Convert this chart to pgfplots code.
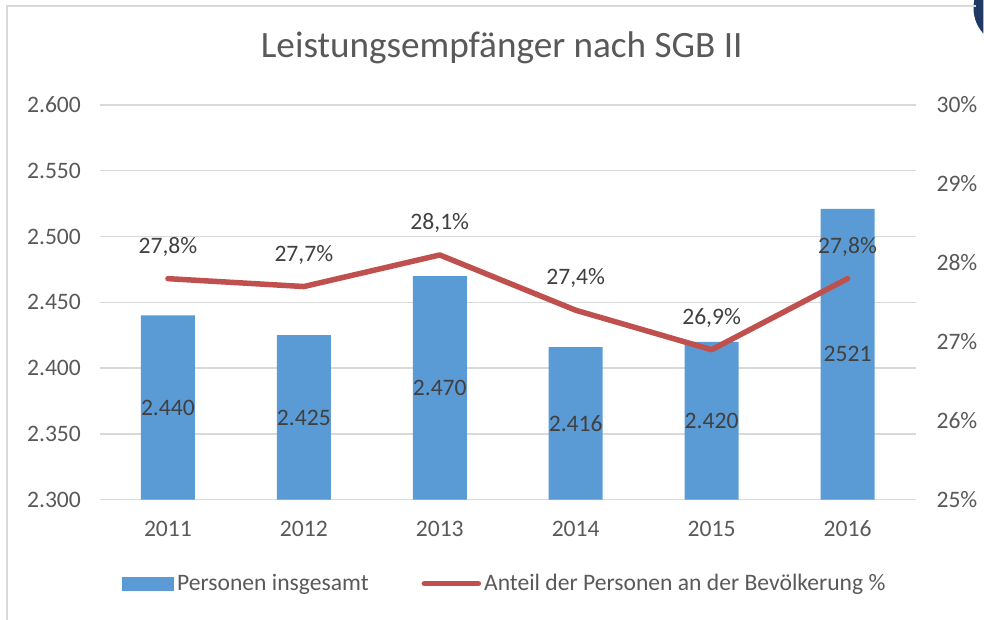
\documentclass[border=0pt]{standalone}
\usepackage{fontspec}
\setmainfont{Carlito}
\usepackage{pgfplots}
\usepackage{pgfplotstable}
\pgfplotsset{compat=1.18}
\definecolor{barblue}{HTML}{5B9BD5}
\definecolor{linered}{HTML}{C0504D}
\definecolor{txt}{HTML}{595959}
\definecolor{lbl}{HTML}{404040}
\definecolor{gridc}{HTML}{D9D9D9}
\definecolor{navy}{HTML}{1F3864}

\pgfplotstableread{
x y lab
0 2440 2.440
1 2425 2.425
2 2470 2.470
3 2416 2.416
4 2420 2.420
5 2521 2521
}\bars

\pgfplotstableread{
x y lab
0 27.8 27,8
1 27.7 27,7
2 28.1 28,1
3 27.4 27,4
4 26.9 26,9
5 27.8 27,8
}\anteil

\newcommand{\tf}{\fontsize{11.8}{14}\selectfont}

\begin{document}
\begin{tikzpicture}
\begin{scope}[x=0.5pt,y=0.5pt]
\path[use as bounding box] (0,0) rectangle (984,620);
\begin{scope}
\clip (0,0) rectangle (984,620);
\fill[navy] (1012,612) circle (38);
\end{scope}
\draw[gridc, line width=0.75pt] (7,0) -- (7,614) -- (977,614);
\node[txt, font=\fontsize{18.6}{22}\selectfont] at (502,572) {Leistungsempfänger nach SGB II};
\end{scope}

\begin{axis}[
  name=ax1,
  at={(50pt,60pt)}, anchor=south west, scale only axis,
  width=408pt, height=197.5pt,
  xmin=-0.5, xmax=5.5, ymin=2300, ymax=2600,
  ytick={2300,2350,...,2600},
  xtick={0,...,5}, xticklabels={2011,2012,2013,2014,2015,2016},
  ymajorgrids, grid style={gridc, line width=0.75pt},
  axis line style={draw=none}, major tick length=0pt,
  scaled y ticks=false,
  /pgf/number format/assume math mode=true,
  /pgf/number format/fixed,
  /pgf/number format/1000 sep={.},
  ticklabel style={font=\tf, text=txt},
  xticklabel style={yshift=-7pt},
  yticklabel style={xshift=-6pt},
  legend style={at={(0.497,-0.2127)}, anchor=center, draw=none, fill=none,
    font=\tf, text=txt, legend columns=2,
    /tikz/every even column/.append style={column sep=25pt},
    nodes={inner sep=1.5pt}},
  legend cell align=left,
]
\addplot[ybar, bar shift=0pt, bar width=27pt, fill=barblue, draw=none,
  point meta=explicit symbolic,
  nodes near coords,
  visualization depends on={rawy \as \rawy},
  every node near coord/.append style={anchor=center,
     yshift={-(\rawy-2300)*0.329167pt}, font=\tf, text=lbl},
  legend image code/.code={\fill[barblue] (0pt,-3.5pt) rectangle (26pt,3.5pt);}]
  table[x=x,y=y,meta=lab]{\bars};
\addlegendentry{Personen insgesamt}
\addlegendimage{legend image code/.code={\draw[linered, line width=2.75pt, line cap=round] (0pt,0pt) -- (27pt,0pt);}}
\addlegendentry{Anteil der Personen an der Bevölkerung \%}
\end{axis}

\begin{axis}[
  at={(ax1.south west)}, anchor=south west, scale only axis,
  width=408pt, height=197.5pt,
  xmin=-0.5, xmax=5.5, ymin=25, ymax=30,
  ytick={25,...,30},
  hide x axis, yticklabel pos=right,
  axis line style={draw=none}, major tick length=0pt,
  /pgf/number format/assume math mode=true,
  yticklabel={\pgfmathprintnumber{\tick}\%},
  yticklabel style={font=\tf, text=txt, xshift=7pt},
]
\addplot[linered, line width=2.75pt, line join=round, line cap=round,
  point meta=explicit symbolic,
  nodes near coords={\pgfplotspointmeta\%},
  every node near coord/.append style={anchor=center, yshift=16pt, font=\tf, text=lbl}]
  table[x=x,y=y,meta=lab]{\anteil};
\end{axis}
\end{tikzpicture}
\end{document}
